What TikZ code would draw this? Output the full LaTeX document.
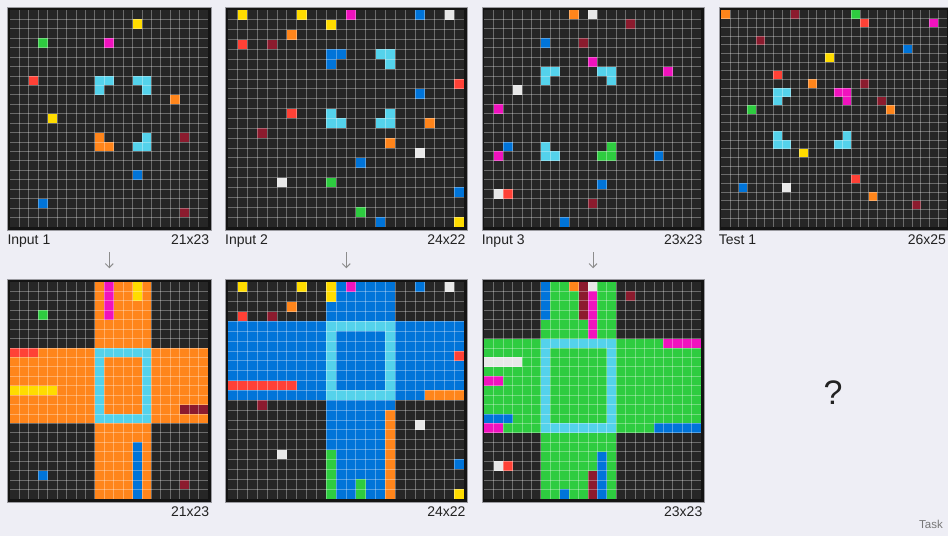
\documentclass[tikz,border=0pt]{standalone}
\usepackage{fontspec}
\setmainfont{Liberation Sans}
\usetikzlibrary{arrows.meta}
\definecolor{arcbg}{HTML}{EEEEF5}
\definecolor{arcK}{HTML}{262626}
\definecolor{arcB}{HTML}{0074D9}
\definecolor{arcR}{HTML}{FF4136}
\definecolor{arcG}{HTML}{2ECC40}
\definecolor{arcY}{HTML}{FFDC00}
\definecolor{arcW}{HTML}{E8E8E8}
\definecolor{arcM}{HTML}{F012BE}
\definecolor{arcO}{HTML}{FF851B}
\definecolor{arcC}{HTML}{54D2EB}
\definecolor{arcD}{HTML}{8C1B2E}
\definecolor{arcframe}{HTML}{141414}
\definecolor{arcrim}{HTML}{9A9AA0}
\definecolor{arcgray}{HTML}{8C8C8C}
\definecolor{arcink}{HTML}{222222}

\begin{document}
\begin{tikzpicture}[
  x=1pt,y=-1pt,
  gridframe/.style={draw=arcrim,line width=0.7pt,fill=arcframe,inner sep=0pt,anchor=north west},
  cells/.style 2 args={shift={#1},x=#2,y=-#2},
  cellline/.style={draw=white,draw opacity=0.32,line width=0.75pt},
  lbl/.style={font=\fontsize{14}{16}\selectfont,text=arcink,inner sep=0pt},
  flow/.style={-{Straight Barb[length=4pt,width=8pt]},draw=arcgray,line width=1pt},
]
\useasboundingbox (0,0) rectangle (948,536);
\fill[arcbg] (0,0) rectangle (948,536);

% frames and empty boards: name/left/top/columns/rows/cell
\foreach \nm/\gx/\gy/\gw/\gh/\gc in {
  in1/10/10/21/23/9.426, in2/227.7/10/24/22/9.855, in3/484.3/10/23/23/9.426,
  test1/721.3/10/26/25/8.672,
  out1/10/282/21/23/9.426, out2/227.7/282/24/22/9.855, out3/484.3/282/23/23/9.426}
{
  \node[gridframe,minimum width={(\gw*\gc+5.4)*1pt},minimum height={(\gh*\gc+5.4)*1pt}]
    (\nm) at (\gx-2.7,\gy-2.7) {};
  \fill[arcK] (\gx,\gy) rectangle ++({\gw*\gc},{\gh*\gc});
}

% Input 1
\begin{scope}[cells={(10,10)}{9.426pt}]
  \foreach \c/\r/\k in {13/1/arcY,3/3/arcG,10/3/arcM,2/7/arcR,9/7/arcC,10/7/arcC,9/8/arcC,
    13/7/arcC,14/7/arcC,14/8/arcC,17/9/arcO,4/11/arcY,9/13/arcO,9/14/arcO,10/14/arcO,
    14/13/arcC,13/14/arcC,14/14/arcC,18/13/arcD,13/17/arcB,3/20/arcB,18/21/arcD}
    \fill[\k] (\c,\r) rectangle +(1,1);
\end{scope}

% Input 2
\begin{scope}[cells={(227.7,10)}{9.855pt}]
  \foreach \c/\r/\k in {1/0/arcY,7/0/arcY,12/0/arcM,19/0/arcB,22/0/arcW,10/1/arcY,6/2/arcO,
    1/3/arcR,4/3/arcD,10/4/arcB,11/4/arcB,10/5/arcB,15/4/arcC,16/4/arcC,16/5/arcC,23/7/arcR,
    19/8/arcB,6/10/arcR,10/10/arcC,10/11/arcC,11/11/arcC,16/10/arcC,15/11/arcC,16/11/arcC,
    20/11/arcO,3/12/arcD,16/13/arcO,19/14/arcW,13/15/arcB,5/17/arcW,10/17/arcG,23/18/arcB,
    13/20/arcG,15/21/arcB,23/21/arcY}
    \fill[\k] (\c,\r) rectangle +(1,1);
\end{scope}

% Input 3
\begin{scope}[cells={(484.3,10)}{9.426pt}]
  \foreach \c/\r/\k in {9/0/arcO,11/0/arcW,15/1/arcD,6/3/arcB,10/3/arcD,11/5/arcM,6/6/arcC,
    7/6/arcC,6/7/arcC,12/6/arcC,13/6/arcC,13/7/arcC,19/6/arcM,3/8/arcW,1/10/arcM,2/14/arcB,
    6/14/arcC,6/15/arcC,7/15/arcC,13/14/arcG,12/15/arcG,13/15/arcG,1/15/arcM,18/15/arcB,
    12/18/arcB,1/19/arcW,2/19/arcR,11/20/arcD,8/22/arcB}
    \fill[\k] (\c,\r) rectangle +(1,1);
\end{scope}

% Test 1
\begin{scope}[cells={(721.3,10)}{8.672pt}]
  \foreach \c/\r/\k in {0/0/arcO,8/0/arcD,15/0/arcG,16/1/arcR,24/1/arcM,4/3/arcD,21/4/arcB,
    12/5/arcY,6/7/arcR,10/8/arcO,16/8/arcD,6/9/arcC,7/9/arcC,6/10/arcC,13/9/arcM,14/9/arcM,
    14/10/arcM,18/10/arcD,3/11/arcG,19/11/arcO,6/14/arcC,6/15/arcC,7/15/arcC,14/14/arcC,
    13/15/arcC,14/15/arcC,9/16/arcY,15/19/arcR,2/20/arcB,7/20/arcW,17/21/arcO,22/22/arcD}
    \fill[\k] (\c,\r) rectangle +(1,1);
\end{scope}

% Output 1: cross, frame, then streaks to the edge
\begin{scope}[cells={(10,282)}{9.426pt}]
  \foreach \xa/\ya/\xb/\yb/\k in {9/0/15/23/arcO,0/7/21/15/arcO,9/7/15/15/arcC,10/8/14/14/arcO,
    13/0/14/2/arcY,10/0/11/4/arcM,0/7/3/8/arcR,0/11/5/12/arcY,18/13/21/14/arcD,
    13/17/14/23/arcB,3/3/4/4/arcG,3/20/4/21/arcB,18/21/19/22/arcD}
    \fill[\k] (\xa,\ya) rectangle (\xb,\yb);
\end{scope}

% Output 2
\begin{scope}[cells={(227.7,282)}{9.855pt}]
  \foreach \xa/\ya/\xb/\yb/\k in {10/0/17/22/arcB,0/4/24/12/arcB,10/4/17/12/arcC,11/5/16/11/arcB,
    10/0/11/2/arcY,12/0/13/1/arcM,0/10/7/11/arcR,20/11/24/12/arcO,16/13/17/22/arcO,
    10/17/11/22/arcG,13/20/14/22/arcG,23/7/24/8/arcR}
    \fill[\k] (\xa,\ya) rectangle (\xb,\yb);
  \foreach \c/\r/\k in {1/0/arcY,7/0/arcY,19/0/arcB,22/0/arcW,6/2/arcO,1/3/arcR,4/3/arcD,
    3/12/arcD,19/14/arcW,5/17/arcW,23/18/arcB,23/21/arcY}
    \fill[\k] (\c,\r) rectangle +(1,1);
\end{scope}

% Output 3
\begin{scope}[cells={(484.3,282)}{9.426pt}]
  \foreach \xa/\ya/\xb/\yb/\k in {6/0/14/23/arcG,0/6/23/16/arcG,6/6/14/16/arcC,7/7/13/15/arcG,
    6/0/7/4/arcB,9/0/10/1/arcO,10/0/11/4/arcD,11/0/12/1/arcW,11/1/12/6/arcM,19/6/23/7/arcM,
    0/8/4/9/arcW,0/10/2/11/arcM,0/14/3/15/arcB,0/15/2/16/arcM,18/15/23/16/arcB,
    12/18/13/23/arcB,11/20/12/23/arcD,8/22/9/23/arcB}
    \fill[\k] (\xa,\ya) rectangle (\xb,\yb);
  \foreach \c/\r/\k in {15/1/arcD,1/19/arcW,2/19/arcR}
    \fill[\k] (\c,\r) rectangle +(1,1);
\end{scope}

% cell lines over every board
\foreach \gx/\gy/\gw/\gh/\gc in {
  10/10/21/23/9.426, 227.7/10/24/22/9.855, 484.3/10/23/23/9.426, 721.3/10/26/25/8.672,
  10/282/21/23/9.426, 227.7/282/24/22/9.855, 484.3/282/23/23/9.426}
{
  \pgfmathtruncatemacro\gwl{\gw-1}
  \pgfmathtruncatemacro\ghl{\gh-1}
  \begin{scope}[cells={(\gx,\gy)}{\gc pt}]
    \foreach \i in {1,...,\gwl} \draw[cellline] (\i,0) -- (\i,\gh);
    \foreach \j in {1,...,\ghl} \draw[cellline] (0,\j) -- (\gw,\j);
  \end{scope}
}

% labels
\node[lbl,anchor=base west] (in1name) at ([yshift=-14pt]in1.south west) {Input 1};
\node[lbl,anchor=base east] (in1size) at ([xshift=-2pt,yshift=-14pt]in1.south east) {21x23};
\node[lbl,anchor=base west] (in2name) at ([yshift=-14pt]in2.south west) {Input 2};
\node[lbl,anchor=base east] (in2size) at ([xshift=-2pt,yshift=-14pt]in2.south east) {24x22};
\node[lbl,anchor=base west] (in3name) at ([yshift=-14pt]in3.south west) {Input 3};
\node[lbl,anchor=base east] (in3size) at ([xshift=-2pt,yshift=-14pt]in3.south east) {23x23};
\node[lbl,anchor=base west] (test1name) at ([yshift=-14pt]test1.south west) {Test 1};
\node[lbl,anchor=base east] (test1size) at ([xshift=-4pt,yshift=-14pt]test1.south east) {26x25};
\node[lbl,anchor=base east] (out1size) at ([xshift=-2pt,yshift=-14pt]out1.south east) {21x23};
\node[lbl,anchor=base east] (out2size) at ([xshift=-2pt,yshift=-14pt]out2.south east) {24x22};
\node[lbl,anchor=base east] (out3size) at ([xshift=-2pt,yshift=-14pt]out3.south east) {23x23};

\draw[flow] ([yshift=-22pt]in1.south) -- ([yshift=11pt]out1.north);
\draw[flow] ([yshift=-22pt]in2.south) -- ([yshift=11pt]out2.north);
\draw[flow] ([yshift=-22pt]in3.south) -- ([yshift=11pt]out3.north);

\node[font=\fontsize{34}{38}\selectfont,text=arcink,inner sep=0pt] (ask) at (833,393) {?};
\node[font=\fontsize{11.5}{13}\selectfont,text=arcgray!85!black,inner sep=0pt,anchor=base east]
  (tag) at (943,528) {Task};
\end{tikzpicture}
\end{document}
